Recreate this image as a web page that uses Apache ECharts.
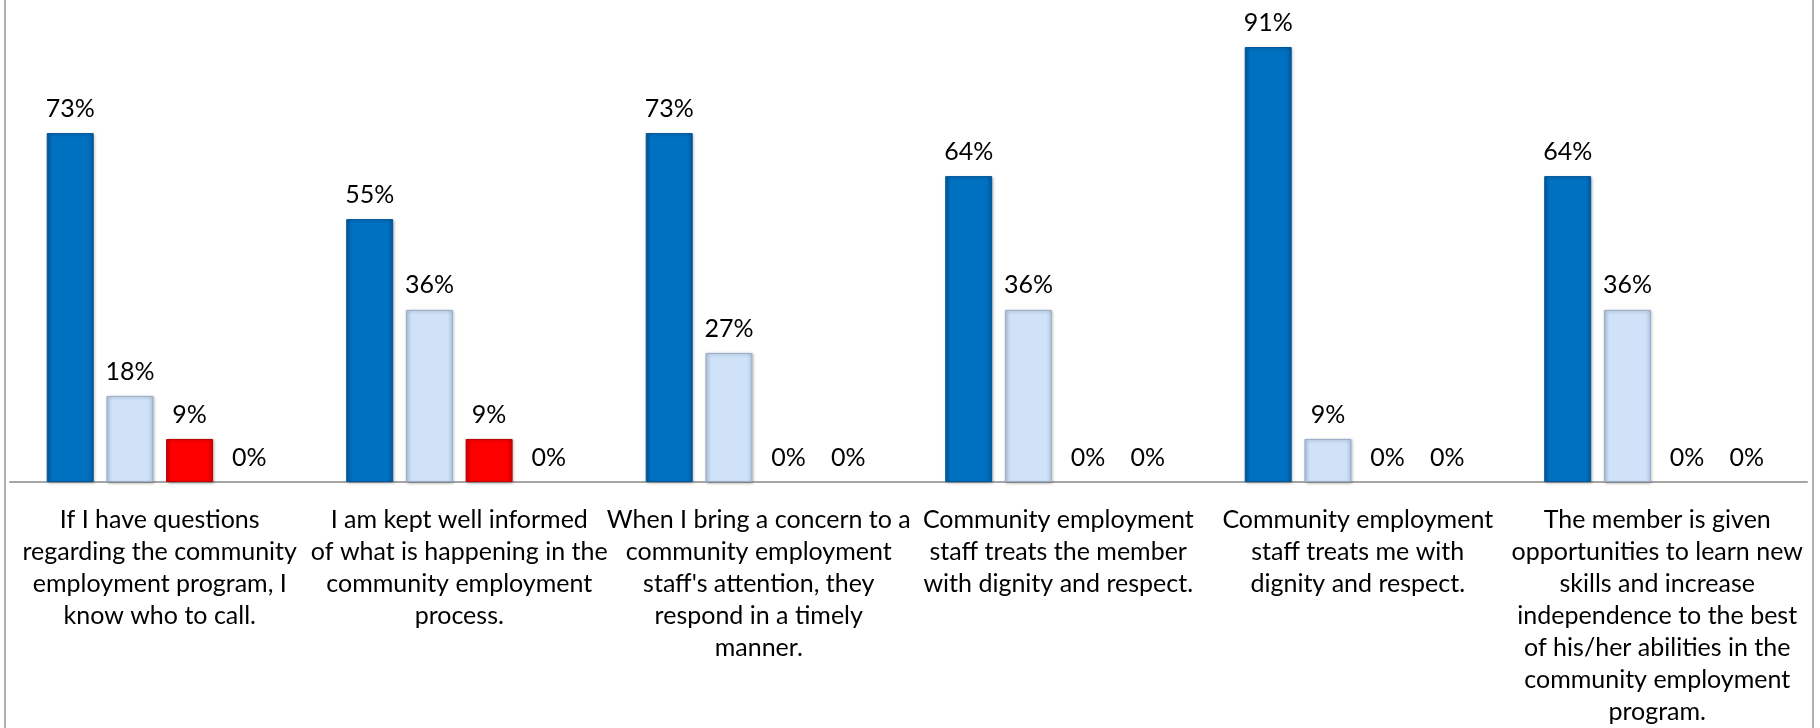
<!DOCTYPE html>
<html>
<head>
<meta charset="utf-8">
<script src="https://cdn.jsdelivr.net/npm/echarts@6/dist/echarts.min.js"></script>
<style>
html,body{margin:0;padding:0;background:#fff;}
#chart{position:absolute;left:0;top:0;width:1820px;height:728px;}
#frame{position:absolute;left:4px;top:-2px;width:1810px;height:740px;border-left:2px solid #b0b0b0;border-right:2px solid #b0b0b0;box-sizing:border-box;pointer-events:none;}
</style>
</head>
<body>
<div id="chart"></div>
<div id="frame"></div>
<script>
var categories = [
  "If I have questions\nregarding the community\nemployment program, I\nknow who to call.",
  "I am kept well informed\nof what is happening in the\ncommunity employment\nprocess.",
  "When I bring a concern to a\ncommunity employment\nstaff's attention, they\nrespond in a timely\nmanner.",
  "Community employment\nstaff treats the member\nwith dignity and respect.",
  "Community employment\nstaff treats me with\ndignity and respect.",
  "The member is given\nopportunities to learn new\nskills and increase\nindependence to the best\nof his/her abilities in the\ncommunity employment\nprogram."
];
var seriesA = [73, 55, 73, 64, 91, 64];
var seriesB = [18, 36, 27, 36, 9, 36];
var seriesC = [9, 9, 0, 0, 0, 0];
var seriesD = [0, 0, 0, 0, 0, 0];

var FONT = 'Lato';
function grad(edge, mid, top) {
  return new echarts.graphic.LinearGradient(0, 0, 1, 0, [
    {offset: 0, color: edge},
    {offset: 0.12, color: mid},
    {offset: 0.88, color: mid},
    {offset: 1, color: edge}
  ]);
}
function mk(name, values, edge, mid, border) {
  return {
    name: name,
    type: 'bar',
    data: values.map(function (v) {
      return v === 0
        ? {value: v, itemStyle: {borderWidth: 0, shadowColor: 'rgba(0,0,0,0)', color: 'rgba(0,0,0,0)'}}
        : {value: v};
    }),
    barWidth: 47,
    barGap: '27%',
    itemStyle: {
      color: grad(edge, mid),
      borderColor: border,
      borderWidth: 1,
      shadowColor: 'rgba(0,0,0,0.25)',
      shadowBlur: 3,
      shadowOffsetX: 1,
      shadowOffsetY: 1
    },
    label: {
      show: true,
      position: 'top',
      distance: 12,
      formatter: '{c}%',
      fontFamily: FONT,
      fontSize: 25,
      color: '#000'
    }
  };
}

var chart = echarts.init(document.getElementById('chart'));
chart.setOption({
  animation: false,
  backgroundColor: '#fff',
  grid: {left: 10, right: 13, top: 4, bottom: 245, containLabel: false},
  xAxis: {
    type: 'category',
    data: categories,
    axisLine: {show: true, lineStyle: {color: '#a6a6a6', width: 2}},
    axisTick: {show: false},
    axisLabel: {
      interval: 0,
      margin: 22,
      fontFamily: FONT,
      fontSize: 25,
      lineHeight: 32,
      color: '#000',
      align: 'center'
    }
  },
  yAxis: {
    type: 'value',
    min: 0,
    max: 100,
    show: false,
    splitLine: {show: false}
  },
  series: [
    mk('A', seriesA, '#005a9e', '#0070C0', '#00569a'),
    mk('B', seriesB, '#b3c9e6', '#cfe2f8', '#9aaec6'),
    mk('C', seriesC, '#d00000', '#ff0000', '#c00000'),
    mk('D', seriesD, '#888888', '#aaaaaa', '#888888')
  ]
});
</script>
</body>
</html>
